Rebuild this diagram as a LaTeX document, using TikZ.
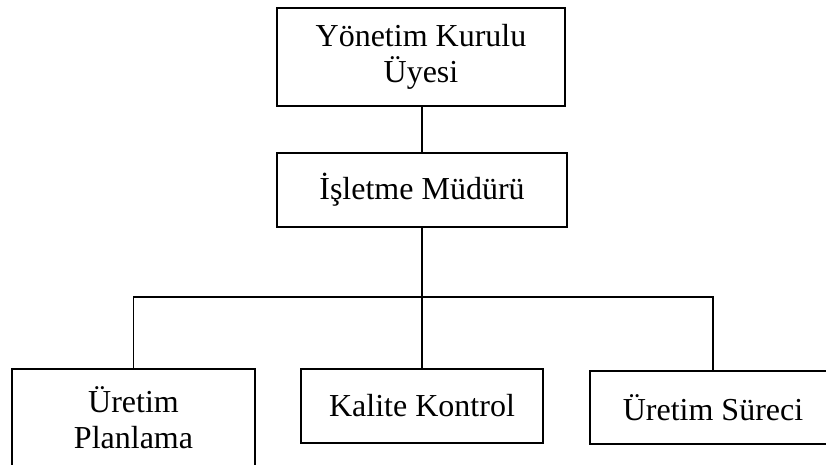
\documentclass[tikz,border=0pt]{standalone}
\usepackage{fontspec}
\setmainfont{Liberation Serif}
\begin{document}
\begin{tikzpicture}[x=1pt,y=-1pt,
  unit/.style={draw,line width=1.8pt,rectangle,inner sep=0pt,align=center,
    font=\fontsize{32}{36}\selectfont},
  link/.style={line width=1.8pt}]
\useasboundingbox (0,0) rectangle (826,465);
\clip (0,0) rectangle (826,465);
% management levels
\node[unit,minimum width=288pt,minimum height=98pt] (board) at (421,57) {Yönetim Kurulu\\Üyesi};
\node[unit,minimum width=290pt,minimum height=74pt] (mgr) at (422,190) {İşletme Müdürü};
% departments
\node[unit,minimum width=243pt,minimum height=98pt] (plan) at (133.5,418) {Üretim\\Planlama};
\node[unit,minimum width=242pt,minimum height=74pt] (qc) at (422,406) {Kalite Kontrol};
\node[unit,minimum width=246pt,minimum height=73pt] (proc) at (713,407.5) {Üretim Süreci};
% connectors
\coordinate (bus) at (421,297);
\draw[link] (board.south) -- (mgr.south |- board.south) -- (mgr.north);
\draw[link] (mgr.south) -- (qc.north);
\draw[link] (plan.north) -- (plan.north |- bus) -- (proc.north |- bus) -- (proc.north);
\end{tikzpicture}
\end{document}
